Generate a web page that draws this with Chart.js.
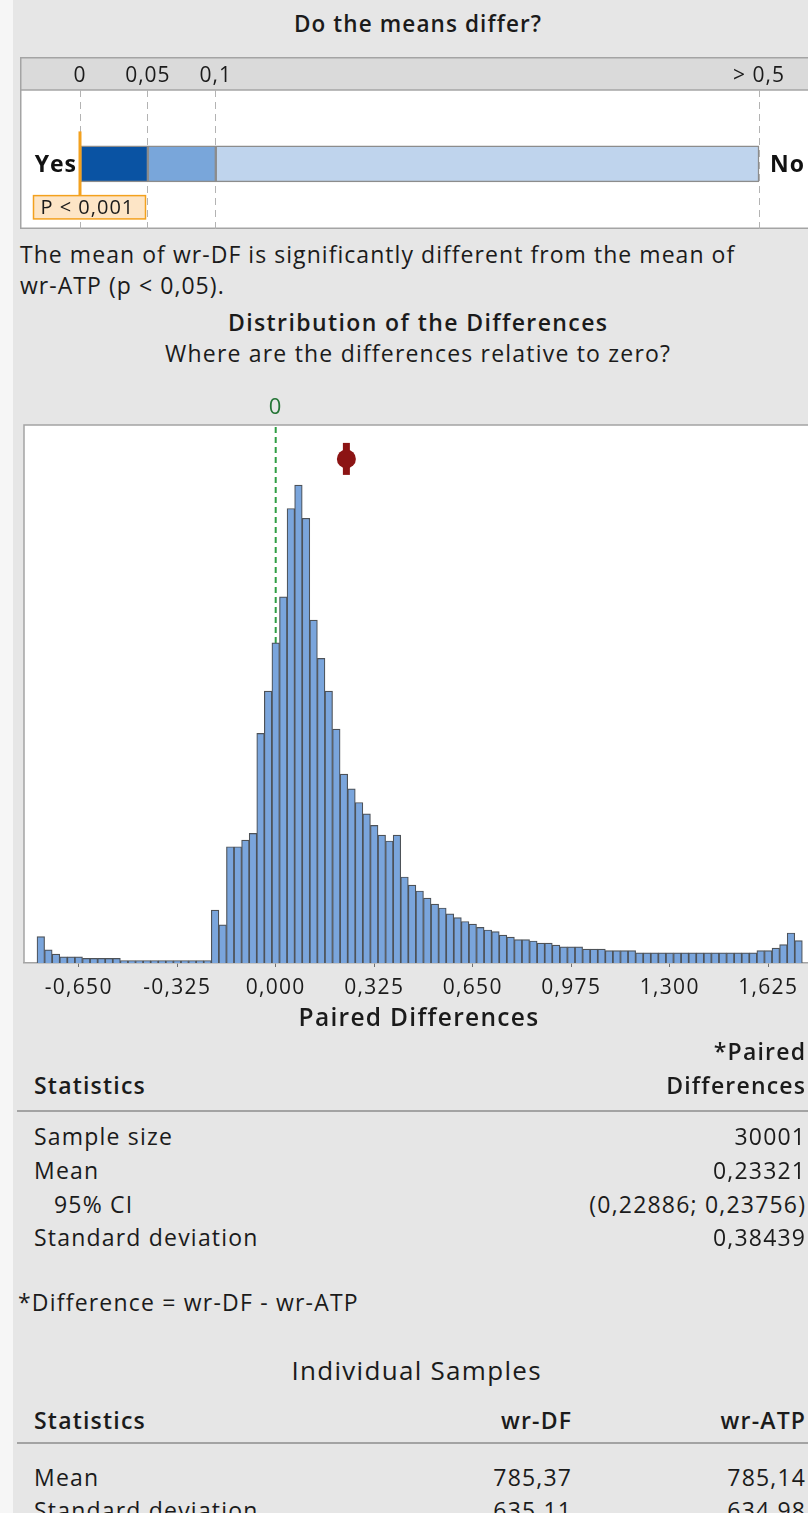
<!DOCTYPE html>
<html>
<head>
<meta charset="utf-8">
<title>Paired t-test report</title>
<script src="https://cdn.jsdelivr.net/npm/chart.js@4.4.1/dist/chart.umd.min.js"></script>
<style>
  html, body { margin: 0; padding: 0; overflow: hidden; }
  body { width: 808px; height: 1513px; position: relative; background: #e6e6e6;
         font-family: "Open Sans", "Noto Sans", sans-serif; color: #1b1b1b; }
  .edge { position: absolute; left: 0; top: 0; width: 13px; height: 1513px; background: #f6f6f6; }
  .txt { position: absolute; white-space: nowrap; line-height: 1; }
  .rule { position: absolute; left: 17px; width: 800px; height: 2px; background: #a3a3a3; }
  #pBox { position: absolute; left: 20px; top: 57px; width: 800px; height: 172px; }
  #hBox { position: absolute; left: 0; top: 380px; width: 820px; height: 680px; }
</style>
</head>
<body>
<div class="edge"></div>
<div id="pBox"><canvas id="pChart" width="800" height="172"></canvas></div>
<div id="hBox"><canvas id="hChart" width="820" height="680"></canvas></div>
<script>
// ---- p-value band ----
const pThresholds = [0, 0.05, 0.1, 0.5];
const pTickLabels = ['0', '0,05', '0,1', '> 0,5'];
const pBandColors = ['#0a53a3', '#79a6da', '#bfd4ed'];
const pValue = 0;               // reported as p < 0.001
const pValueLabel = 'P < 0,001';

// ---- histogram of paired differences (wr-DF - wr-ATP) ----
const binWidth = 0.025;
const firstBinCenter = -0.775;
const binCounts = [
  115, 57, 39, 27, 27, 27, 20, 20, 20, 20, 20,
  11, 11, 11, 11, 11, 11, 11, 11, 11, 11, 11, 11,
  231, 166, 507, 507, 536, 565, 1001, 1186,
  1396, 1597, 1982, 2084, 1939, 1495, 1328, 1186, 1020, 824, 759, 700, 650, 600, 558, 532, 558,
  375, 340, 314, 283, 257, 240, 214, 198, 181, 170, 155, 144, 137, 122, 113, 102, 102, 96, 87, 87, 78,
  70, 70, 70, 61, 61, 61, 54, 54, 54, 54, 44,
  44, 44, 44, 44, 44, 44, 44, 44, 44, 44, 44, 44, 44, 44, 44,
  54, 54, 65, 80, 131, 98
];
const xTickValues = [-0.65, -0.325, 0, 0.325, 0.65, 0.975, 1.3, 1.625];
const meanDiff = 0.23321;
const ciDiff = [0.22886, 0.23756];
const sdDiff = 0.38439;
const sampleSize = 30001;

// ---- individual samples ----
const sampleNames = ['wr-DF', 'wr-ATP'];
const sampleMeans = [785.37, 785.14];
const sampleSDs = [635.11, 634.98];

const FONT = '"Open Sans", "Noto Sans", sans-serif';
const dec = (v, n) => v.toFixed(n).replace('.', ',');

// ---------- page text ----------
function label(text, x, cy, o) {
  o = o || {};
  const size = o.size || 23;
  const ls = o.ls != null ? o.ls : 1.2;
  const d = document.createElement('div');
  d.className = 'txt';
  d.textContent = text;
  d.style.fontSize = size + 'px';
  d.style.fontWeight = o.weight || 400;
  d.style.letterSpacing = ls + 'px';
  d.style.top = (cy - 0.531 * size) + 'px';
  if (o.align === 'right') d.style.right = (808 - x - ls) + 'px';
  else if (o.align === 'center') { d.style.left = (x + ls / 2) + 'px'; d.style.transform = 'translateX(-50%)'; }
  else d.style.left = x + 'px';
  if (o.color) d.style.color = o.color;
  document.body.appendChild(d);
}
function rule(y) {
  const r = document.createElement('div');
  r.className = 'rule';
  r.style.top = y + 'px';
  document.body.appendChild(r);
}

label('Do the means differ?', 417.5, 25, {size: 22.5, weight: 600, ls: 1.1, align: 'center'});
label('The mean of ' + sampleNames[0] + ' is significantly different from the mean of', 20, 255, {ls: 1.05});
label(sampleNames[1] + ' (p < 0,05).', 20, 286, {ls: 1.05});
label('Distribution of the Differences', 417.5, 323, {weight: 600, ls: 1.4, align: 'center'});
label('Where are the differences relative to zero?', 417.5, 354, {align: 'center'});

// paired differences table
label('*Paired', 805, 1052, {weight: 600, align: 'right'});
label('Statistics', 34, 1086, {weight: 600});
label('Differences', 805, 1086, {weight: 600, align: 'right'});
rule(1110);
const pairedRows = [
  ['Sample size', String(sampleSize)],
  ['Mean', dec(meanDiff, 5)],
  ['95% CI', '(' + dec(ciDiff[0], 5) + '; ' + dec(ciDiff[1], 5) + ')'],
  ['Standard deviation', dec(sdDiff, 5)]
];
const pairedRowY = [1137, 1171, 1205, 1238];
pairedRows.forEach((r, i) => {
  label(r[0], r[0] === '95% CI' ? 54 : 34, pairedRowY[i]);
  label(r[1], 805, pairedRowY[i], {align: 'right'});
});
label('*Difference = ' + sampleNames[0] + ' - ' + sampleNames[1], 18, 1303);

// individual samples table
label('Individual Samples', 416, 1371, {size: 26, ls: 1.3, align: 'center'});
label('Statistics', 34, 1421, {weight: 600});
label(sampleNames[0], 571, 1421, {weight: 600, align: 'right'});
label(sampleNames[1], 805, 1421, {weight: 600, align: 'right'});
rule(1442);
label('Mean', 34, 1478);
label(dec(sampleMeans[0], 2), 571, 1478, {align: 'right'});
label(dec(sampleMeans[1], 2), 805, 1478, {align: 'right'});
label('Standard deviation', 34, 1511);
label(dec(sampleSDs[0], 2), 571, 1511, {align: 'right'});
label(dec(sampleSDs[1], 2), 805, 1511, {align: 'right'});

// ---------- "Do the means differ?" band ----------
const pxPerUnitP = 1358;          // band scale, pixels per unit of p
const pZeroPx = 60;               // canvas x of p = 0
const panelFrame = {
  id: 'panelFrame',
  beforeDraw(chart) {
    const {ctx, chartArea: a, width, height} = chart;
    ctx.save();
    ctx.fillStyle = '#dadada';
    ctx.fillRect(0, 0, width, a.top);
    ctx.fillStyle = '#ffffff';
    ctx.fillRect(0, a.top, width, height - a.top);
    ctx.strokeStyle = '#a4a4a4';
    ctx.lineWidth = 1.5;
    ctx.strokeRect(0.75, 0.75, width + 10, height - 1.5);
    ctx.beginPath();
    ctx.moveTo(0, a.top);
    ctx.lineTo(width, a.top);
    ctx.stroke();
    ctx.restore();
    ctx.letterSpacing = '1px';
  },
  afterDatasetsDraw(chart) {
    const {ctx, scales: {x, y}} = chart;
    const yc = y.getPixelForValue(0);
    ctx.save();
    ctx.fillStyle = '#111';
    ctx.font = '700 23px ' + FONT;
    ctx.textBaseline = 'alphabetic';
    ctx.textAlign = 'right';
    ctx.fillText('Yes', x.getPixelForValue(pThresholds[0]) - 3, yc + 8.2);
    ctx.textAlign = 'left';
    ctx.fillText('No', x.getPixelForValue(pThresholds[3]) + 11, yc + 8.2);
    // p-value tag
    const px = x.getPixelForValue(pValue);
    const bx = px - 46.5, by = yc + 31.7, bw = 112, bh = 23.3;
    ctx.fillStyle = '#fde5c6';
    ctx.fillRect(bx, by, bw, bh);
    ctx.strokeStyle = '#f3a11e';
    ctx.lineWidth = 1.5;
    ctx.strokeRect(bx, by, bw, bh);
    ctx.fillStyle = '#1b1b1b';
    ctx.font = '400 20px ' + FONT;
    ctx.fillText(pValueLabel, bx + 7, by + bh / 2 + 7.2);
    ctx.restore();
  }
};

new Chart(document.getElementById('pChart'), {
  type: 'bar',
  data: {
    datasets: [
      {
        type: 'scatter',
        data: [{x: pValue, y: 0}],
        pointStyle: 'line', pointRotation: 90, pointRadius: 32.5,
        pointBorderColor: '#f3a11e', pointBorderWidth: 3,
        clip: false,
        order: 0
      },
      {
        type: 'bar', indexAxis: 'y',
        data: pBandColors.map((c, i) => ({x: [pThresholds[i], pThresholds[i + 1]], y: 0})),
        backgroundColor: pBandColors,
        borderColor: '#8c8c8c', borderWidth: 1.5, borderSkipped: false,
        barThickness: 36, grouped: false,
        order: 1
      }
    ]
  },
  options: {
    responsive: false, animation: false,
    layout: {padding: 0, autoPadding: false},
    plugins: {legend: {display: false}, tooltip: {enabled: false}},
    scales: {
      x: {
        type: 'linear', position: 'top', offset: false,
        min: -pZeroPx / pxPerUnitP, max: (800 - pZeroPx) / pxPerUnitP,
        afterFit: s => { s.height = 33; },
        afterBuildTicks: s => { s.ticks = pThresholds.map(v => ({value: v})); },
        ticks: {
          callback: (v, i) => pTickLabels[i],
          font: {family: FONT, size: 21}, color: '#1b1b1b', padding: 1, maxRotation: 0, autoSkip: false
        },
        grid: {display: true, offset: false, drawOnChartArea: true, drawTicks: false, color: '#b3b3b3', lineWidth: 1},
        border: {display: false, dash: [7, 5]}
      },
      y: {type: 'linear', display: false, min: -0.853, max: 1}
    }
  },
  plugins: [panelFrame]
});

// ---------- histogram ----------
const histPxPerUnit = 303.1;
const histZeroPx = 275.7;
const markerLevel = 0.937;        // height of the mean marker, as a fraction of the plot
const histData = binCounts.map((c, i) => ({x: +(firstBinCenter + i * binWidth).toFixed(4), y: c}));
const xMin = (24 - histZeroPx) / histPxPerUnit;
const xMax = (814 - histZeroPx) / histPxPerUnit;

const plotFrame = {
  id: 'plotFrame',
  beforeDraw(chart) {
    const {ctx, chartArea: a} = chart;
    ctx.save();
    ctx.fillStyle = '#ffffff';
    ctx.fillRect(a.left, a.top, a.right - a.left, a.bottom - a.top);
    ctx.strokeStyle = '#a4a4a4';
    ctx.lineWidth = 1.5;
    ctx.beginPath();
    ctx.moveTo(a.left, a.bottom);
    ctx.lineTo(a.left, a.top);
    ctx.lineTo(a.right, a.top);
    ctx.lineTo(a.right, a.bottom);
    ctx.stroke();
    ctx.restore();
    ctx.letterSpacing = '1.3px';
  }
};

new Chart(document.getElementById('hChart'), {
  type: 'bar',
  data: {
    datasets: [
      {
        type: 'line', yAxisID: 'yRef',
        data: [{x: 0, y: 0}, {x: 0, y: 1}],
        borderColor: '#2f9e44', borderWidth: 2, borderDash: [6, 4], pointRadius: 0,
        order: 3
      },
      {
        type: 'bar', yAxisID: 'y',
        data: histData,
        backgroundColor: '#7aa5dc', borderColor: '#4d5258', borderWidth: 1.2,
        barPercentage: 1, categoryPercentage: 1, grouped: false,
        order: 2
      },
      {
        type: 'scatter', yAxisID: 'yRef',
        data: [{x: meanDiff, y: markerLevel}],
        pointStyle: 'line', pointRotation: 90, pointRadius: 16,
        pointBorderColor: '#8c1414', pointBorderWidth: 7,
        order: 1
      },
      {
        type: 'scatter', yAxisID: 'yRef',
        data: [{x: meanDiff, y: markerLevel}],
        pointStyle: 'circle', pointRadius: 9.5,
        pointBackgroundColor: '#8c1414', pointBorderWidth: 0,
        order: 0
      }
    ]
  },
  options: {
    responsive: false, animation: false,
    layout: {padding: {left: 24, right: 6, top: 0, bottom: 0}, autoPadding: false},
    plugins: {legend: {display: false}, tooltip: {enabled: false}},
    scales: {
      x: {
        type: 'linear', position: 'bottom', offset: false, min: xMin, max: xMax,
        afterFit: s => { s.height = 97; },
        afterBuildTicks: s => { s.ticks = xTickValues.map(v => ({value: v})); },
        ticks: {
          callback: v => dec(v, 3),
          font: {family: FONT, size: 21}, color: '#1b1b1b', padding: 8, maxRotation: 0, autoSkip: false
        },
        grid: {display: true, offset: false, drawOnChartArea: false, drawTicks: true, tickLength: 4, color: '#6f6f6f'},
        border: {display: true, color: '#a4a4a4', width: 1.5},
        title: {
          display: true, text: 'Paired Differences',
          font: {family: FONT, size: 24.5, weight: '600'}, color: '#1b1b1b',
          padding: {top: 0, bottom: 26}
        }
      },
      xTop: {
        type: 'linear', position: 'top', offset: false, min: xMin, max: xMax,
        afterFit: s => { s.height = 45; },
        afterBuildTicks: s => { s.ticks = [{value: 0}]; },
        ticks: {callback: v => String(v), font: {family: FONT, size: 22}, color: '#257536', padding: 4},
        grid: {display: false, offset: false, drawTicks: false},
        border: {display: false}
      },
      y: {display: false, min: 0, max: 2346},
      yRef: {display: false, min: 0, max: 1}
    }
  },
  plugins: [plotFrame]
});
</script>
</body>
</html>
